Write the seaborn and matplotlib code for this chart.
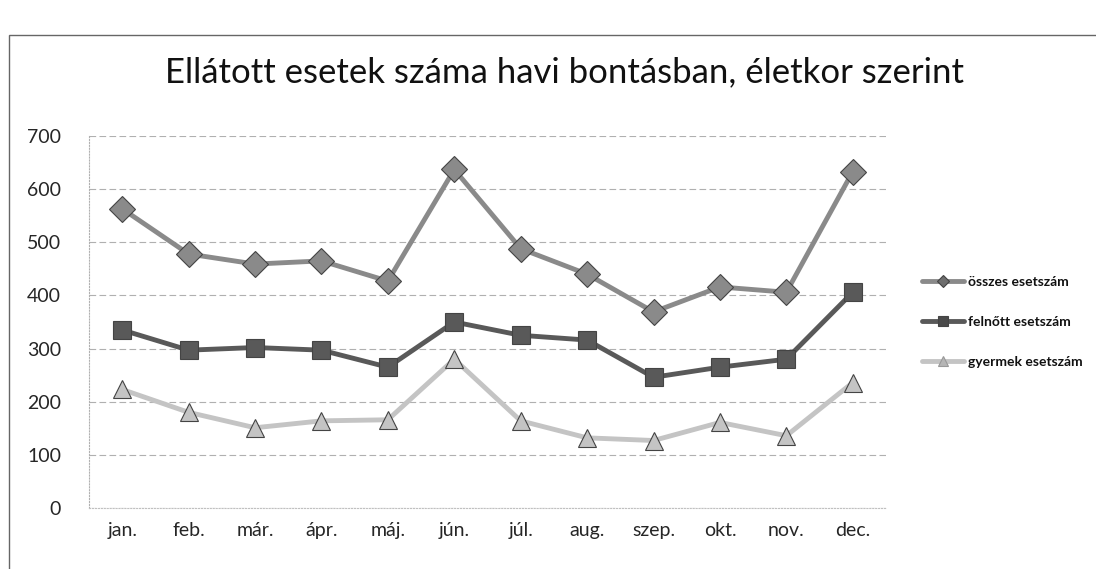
import pandas as pd
import matplotlib
matplotlib.use("Agg")
import matplotlib.pyplot as plt
import seaborn as sns
from matplotlib.patches import Rectangle

# DATA
honapok = ["jan.", "feb.", "már.", "ápr.", "máj.", "jún.", "júl.", "aug.", "szep.", "okt.", "nov.", "dec."]
osszes = [563, 478, 459, 465, 427, 637, 488, 440, 369, 416, 406, 633]
felnott = [335, 297, 302, 297, 265, 350, 325, 316, 246, 265, 280, 406]
gyermek = [223, 180, 151, 164, 166, 280, 164, 132, 127, 161, 136, 236]
sorozatok = ["összes esetszám", "felnőtt esetszám", "gyermek esetszám"]

df = pd.DataFrame({
    "honap": honapok * 3,
    "x": list(range(len(honapok))) * 3,
    "ertek": osszes + felnott + gyermek,
    "sorozat": [s for s in sorozatok for _ in honapok],
})

sns.set_style("white")
plt.rcParams["font.family"] = ["Lato", "DejaVu Sans"]

fig = plt.figure(figsize=(10.96, 5.69), dpi=100)
ax = fig.add_axes([89 / 1096, 1 - 508 / 569, (886 - 89) / 1096, (508 - 136) / 569])

szinek = {"összes esetszám": "#8a8a8a", "felnőtt esetszám": "#595959", "gyermek esetszám": "#c4c4c4"}
markerek = {"összes esetszám": "D", "felnőtt esetszám": "s", "gyermek esetszám": "^"}

sns.lineplot(data=df, x="x", y="ertek", hue="sorozat", style="sorozat",
             palette=szinek, markers=markerek, dashes=False, linewidth=3.5,
             markersize=13, markeredgecolor="#444444", markeredgewidth=0.8,
             ax=ax, legend=True)

# darker markers like in the scan
for line in ax.get_lines():
    lab = line.get_label()
    if lab == "felnőtt esetszám":
        line.set_markerfacecolor("#4a4a4a")
    elif lab == "összes esetszám":
        line.set_markerfacecolor("#6e6e6e")
        line.set_markersize(12)
    elif lab == "gyermek esetszám":
        line.set_markerfacecolor("#b5b5b5")
        line.set_markeredgecolor("#999999")

ax.set_xlim(-0.5, 11.5)
ax.set_ylim(0, 700)
ax.set_yticks(range(0, 701, 100))
ax.set_xticks(range(len(honapok)))
ax.set_xticklabels(honapok)
ax.set_xlabel("")
ax.set_ylabel("")
ax.tick_params(axis="y", labelsize=14, pad=20, length=0)
ax.tick_params(axis="x", labelsize=14, pad=10, length=0)
ax.grid(axis="y", color="#b0b0b0", linewidth=0.8, linestyle=(0, (6, 3)))
for s in ["top", "right"]:
    ax.spines[s].set_visible(False)
ax.spines["left"].set_color("#b0b0b0")
ax.spines["left"].set_linestyle(":")
ax.spines["bottom"].set_color("#c0c0c0")
ax.spines["bottom"].set_linestyle(":")

leg = ax.legend(loc="center left", bbox_to_anchor=(1.03, 0.5), frameon=False,
                fontsize=10, handlelength=3, labelspacing=2.0, markerscale=0.5,
                handletextpad=0.3)
for t in leg.get_texts():
    t.set_color("#111111")
    t.set_fontweight("bold")

fig.text(0.515, 1 - 82 / 569, "Ellátott esetek száma havi bontásban, életkor szerint",
         ha="center", va="baseline", fontsize=25, color="#111111")

# scanned frame border
fig.patches.append(Rectangle((0.008, -0.01), 1.0, 1 - 0.01 - 24 / 569, transform=fig.transFigure,
                             fill=False, edgecolor="#666666", linewidth=1.0))

fig.savefig("out.png", dpi=100)
